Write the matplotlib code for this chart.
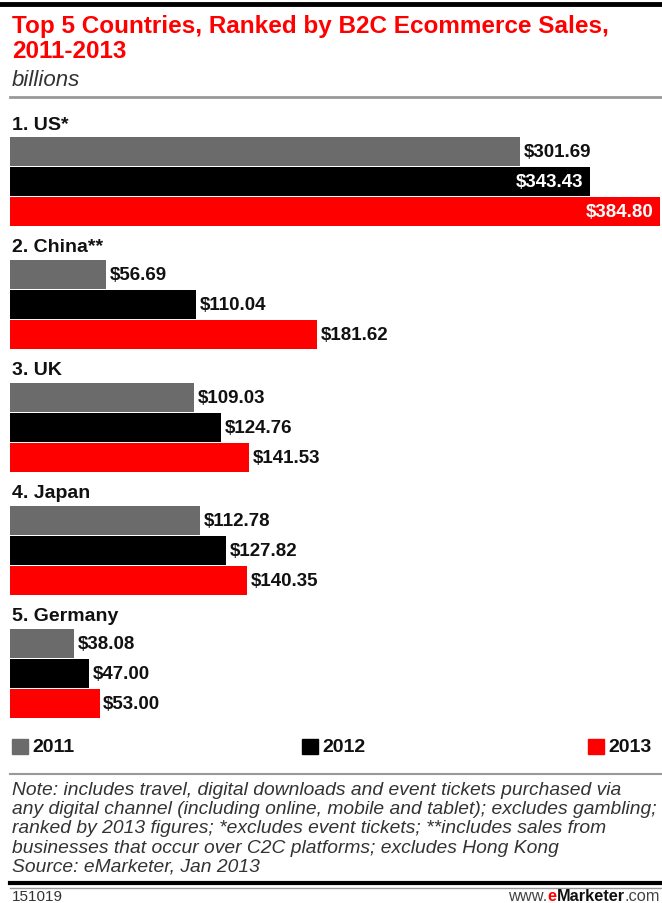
import matplotlib
matplotlib.use("Agg")
import matplotlib.pyplot as plt
from matplotlib.patches import Rectangle
from matplotlib.lines import Line2D

countries = ["1. US*", "2. China**", "3. UK", "4. Japan", "5. Germany"]
years = ["2011", "2012", "2013"]
sales_2011 = [301.69, 56.69, 109.03, 112.78, 38.08]
sales_2012 = [343.43, 110.04, 124.76, 127.82, 47.00]
sales_2013 = [384.80, 181.62, 141.53, 140.35, 53.00]
series = [sales_2011, sales_2012, sales_2013]
colors = ["#6b6b6b", "#000000", "#ff0000"]

W, H = 662, 904
plt.rcParams['font.family'] = ['Liberation Sans', 'DejaVu Sans']
fig = plt.figure(figsize=(W / 100, H / 100), dpi=100)


def fx(px):
    return px / W


def fy(py):
    return 1 - py / H


# bars
ax = fig.add_axes([fx(10), fy(730), fx(652), 620 / H])
ax.set_xlim(0, 386)
ax.set_ylim(620 / 30, 0)
ax.axis("off")

pitch = 4.1
for g, name in enumerate(countries):
    ax.text(1.0, g * pitch + 0.5, name, ha="left", va="center",
            fontsize=14, fontweight="bold", color="#111111")
    for i, vals in enumerate(series):
        yc = g * pitch + 0.93 + i + 0.5
        v = vals[g]
        ax.barh(yc, v, height=0.97, color=colors[i], left=0)
        label = "$%.2f" % v
        if v > 330:
            ax.text(v - 4, yc, label, ha="right", va="center",
                    fontsize=13.5, fontweight="bold", color="white")
        else:
            ax.text(v + 2.2, yc, label, ha="left", va="center",
                    fontsize=13.5, fontweight="bold", color="#111111")

# header
fig.add_artist(Line2D([0, 1], [fy(5), fy(5)], color="black", lw=3.5))
fig.text(fx(12), fy(27), "Top 5 Countries, Ranked by B2C Ecommerce Sales,",
         ha="left", va="center", fontsize=17.5, fontweight="bold", color="#ff0000")
fig.text(fx(12), fy(51), "2011-2013",
         ha="left", va="center", fontsize=17.5, fontweight="bold", color="#ff0000")
fig.text(fx(12), fy(80), "billions", ha="left", va="center",
         fontsize=16, style="italic", color="#333333")
fig.add_artist(Line2D([fx(10), 1], [fy(98), fy(98)], color="#999999", lw=2))

# legend
leg_x = [12, 302, 588]
for i, yr in enumerate(years):
    fig.add_artist(Rectangle((fx(leg_x[i]), fy(755)), fx(16), 15 / H,
                             transform=fig.transFigure, color=colors[i]))
    fig.text(fx(leg_x[i] + 20), fy(747), yr, ha="left", va="center",
             fontsize=14, fontweight="bold", color="#111111")

fig.add_artist(Line2D([fx(10), 1], [fy(775), fy(775)], color="#999999", lw=1.5))

note = ("Note: includes travel, digital downloads and event tickets purchased via\n"
        "any digital channel (including online, mobile and tablet); excludes gambling;\n"
        "ranked by 2013 figures; *excludes event tickets; **includes sales from\n"
        "businesses that occur over C2C platforms; excludes Hong Kong\n"
        "Source: eMarketer, Jan 2013")
fig.text(fx(12), fy(782), note, ha="left", va="top", fontsize=13.9,
         style="italic", color="#333333", linespacing=1.17)

# footer
fig.add_artist(Line2D([fx(10), 1], [fy(884), fy(884)], color="black", lw=3))
fig.add_artist(Line2D([fx(10), 1], [fy(889), fy(889)], color="#999999", lw=1))
fig.text(fx(12), fy(897), "151019", ha="left", va="center",
         fontsize=11, color="#333333")

renderer = fig.canvas.get_renderer()
parts = [(".com", "normal", "#444444"), ("Marketer", "bold", "#111111"),
         ("e", "bold", "#ff0000"), ("www.", "normal", "#444444")]
x_right = fx(660)
for txt, wt, col in parts:
    t = fig.text(x_right, fy(897), txt, ha="right", va="center",
                 fontsize=11.8, fontweight=wt, color=col)
    bb = t.get_window_extent(renderer)
    x_right = bb.x0 / W

fig.savefig("out.png", dpi=100)
